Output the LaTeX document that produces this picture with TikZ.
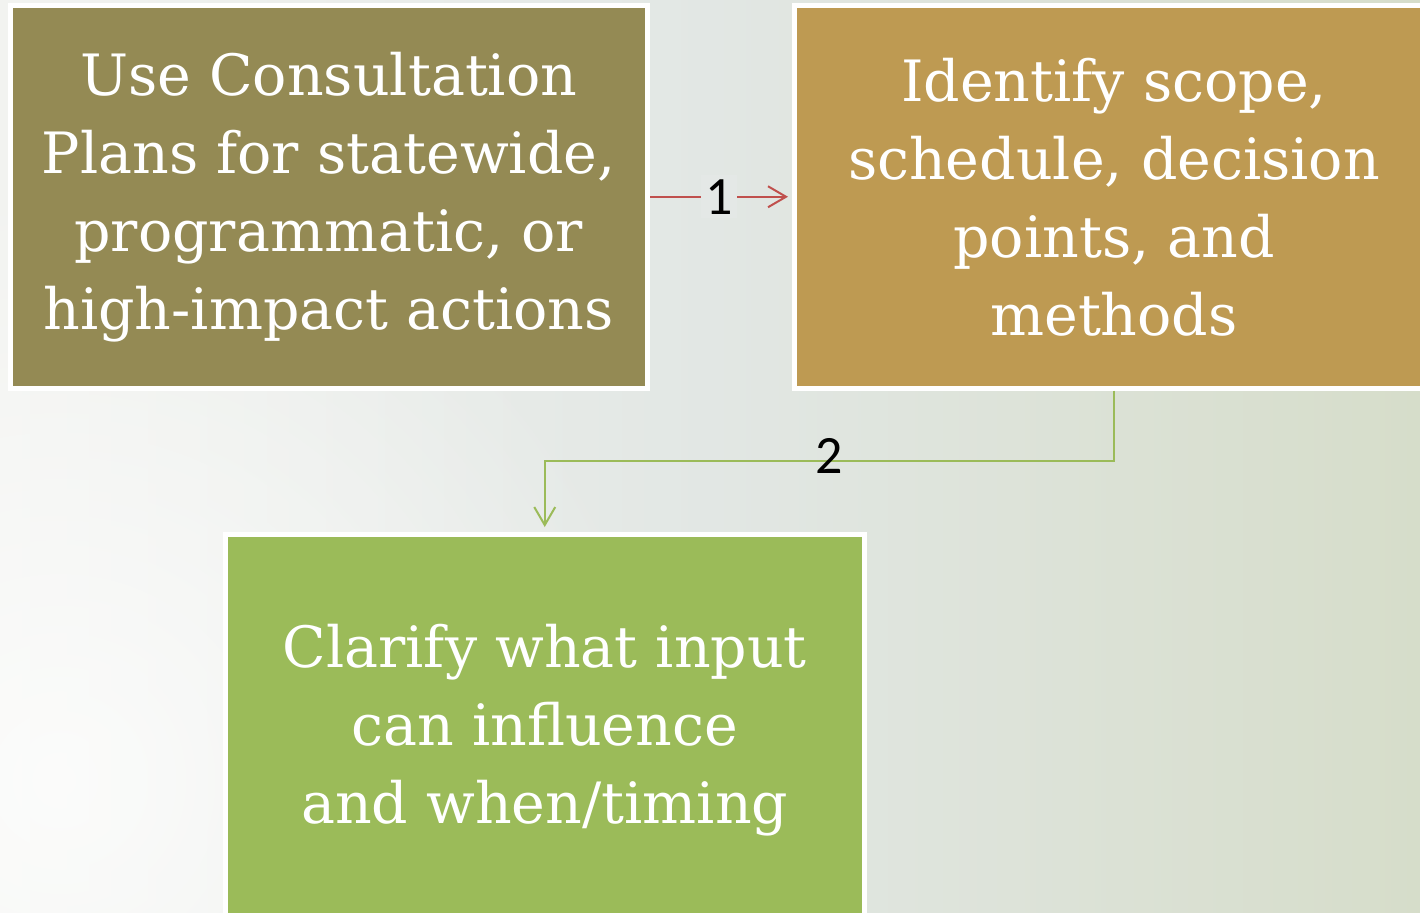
\documentclass[tikz,border=0pt]{standalone}
\usepackage{fontspec}
\setmainfont{DejaVu Serif}
\newfontfamily\labelfont{Carlito}
\usetikzlibrary{arrows.meta,fadings}
\definecolor{bgleft}{HTML}{F2F3F0}
\definecolor{bgmid}{HTML}{E2E7E4}
\definecolor{bgright}{HTML}{D6DDCA}
\definecolor{oliveA}{HTML}{948A54}
\definecolor{goldB}{HTML}{BE9A52}
\definecolor{greenC}{HTML}{9BBB59}
\definecolor{redline}{HTML}{C0504D}
\definecolor{labelbg}{HTML}{E4E8E6}
\tikzfading[name=softglow, inner color=transparent!0, outer color=transparent!100]
\tikzset{
  box/.style={draw=white, line width=2.5pt, text=white, align=center,
    font=\fontsize{28.5}{39}\selectfont, inner sep=0pt},
  conn/.style={line width=1pt, -{Straight Barb[length=9pt,width=10.5pt,line width=1pt]}},
  numlabel/.style={font=\labelfont\fontsize{27}{30}\selectfont, text=black, inner sep=2pt}
}
\begin{document}
\begin{tikzpicture}[x=0.5pt,y=-0.5pt]
\useasboundingbox (0,0) rectangle (1420,912);
\clip (0,0) rectangle (1420,912);
\shade[left color=bgleft, right color=bgright, middle color=bgmid] (0,0) rectangle (1420,912);
\fill[white, opacity=0.75, path fading=softglow] (60,780) circle (620);
\node[box, fill=oliveA, minimum width=318.75pt, minimum height=191.25pt] (b1) at (328.75,196.75)
  {Use Consultation\\Plans for statewide,\\programmatic, or\\high-impact actions};
\node[box, fill=goldB, minimum width=319.5pt, minimum height=191.25pt] (b2) at (1114,196.75)
  {Identify scope,\\schedule, decision\\points, and\\methods};
\node[box, fill=greenC, minimum width=319.25pt, minimum height=195.75pt] (b3) at (544.75,730.25)
  {Clarify what input\\can influence\\and when/timing};
\draw[conn, redline, shorten >=2pt] (b1.east) -- node[numlabel, fill=labelbg, pos=0.485] (l1) {1} (b2.west);
\coordinate (m2) at (829,461);
\draw[conn, greenC, shorten >=2.5pt] (b2.south) |- (m2) -| (b3.north);
\node[numlabel] (l2) at (829,456) {2};
\end{tikzpicture}
\end{document}
